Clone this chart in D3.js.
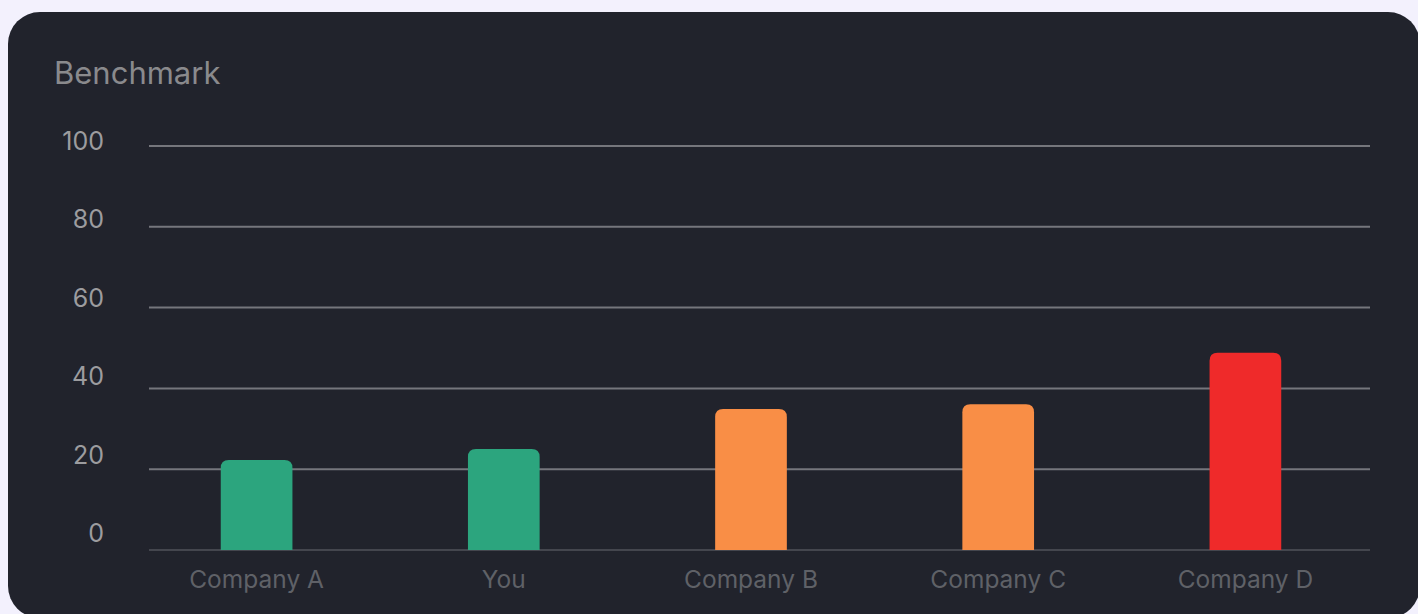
<!DOCTYPE html>
<html>
<head>
<meta charset="utf-8">
<script src="https://cdn.jsdelivr.net/npm/d3@7"></script>
<style>
  html, body { margin: 0; padding: 0; background: #f3f1fd; overflow: hidden; }
  svg { display: block; font-family: Inter, "Noto Sans", sans-serif; }
</style>
</head>
<body>
<div id="chart"></div>
<script>
// data
const companies = ['Company A', 'You', 'Company B', 'Company C', 'Company D'];
const scores = [22.3, 25, 34.9, 36.1, 48.8];
const barColors = ['#2ca57e', '#2ca57e', '#f98e46', '#f98e46', '#ef2a2a'];
const yTicks = [0, 20, 40, 60, 80, 100];

const svgWidth = 1418, svgHeight = 614;

let margin = { top: 146, right: 1370, bottom: 550, left: 149 };

let svg = d3.select('#chart')
    .append('svg')
    .attr('width', svgWidth)
    .attr('height', svgHeight);

// card
svg.append('rect')
    .attr('x', 8).attr('y', 12)
    .attr('width', 1412).attr('height', 606)
    .attr('rx', 32)
    .attr('fill', '#21232c');

svg.append('text')
    .attr('x', 54).attr('y', 84)
    .attr('fill', '#8a8a8d')
    .style('font-size', '31px')
    .text('Benchmark');

let y = d3.scaleLinear().domain([0, 100]).range([margin.bottom, margin.top]);
// tick labels sit on their own slightly tighter spacing
let yLabel = d3.scaleLinear().domain([0, 100]).range([542, 150]);

let x = d3.scaleBand()
    .domain(companies)
    .range([133, 1369])
    .paddingInner(0.71)
    .paddingOuter(0.355);

// grid
svg.append('g').selectAll('line')
    .data(yTicks)
    .enter()
    .append('line')
    .attr('x1', margin.left).attr('x2', margin.right)
    .attr('y1', d => y(d)).attr('y2', d => y(d))
    .attr('stroke', d => d === 0 ? '#696b71' : '#75767c')
    .attr('stroke-width', d => d === 0 ? 1 : 2);

// y labels
svg.append('g').selectAll('text')
    .data(yTicks)
    .enter()
    .append('text')
    .attr('x', 104)
    .attr('y', d => yLabel(d))
    .attr('text-anchor', 'end')
    .attr('fill', '#9c9c9f')
    .style('font-size', '25px')
    .text(d => d);

// bars with rounded top
function barPath(d, i) {
    let x0 = x(companies[i]), w = x.bandwidth(), y0 = y(d), y1 = y(0), r = 8;
    return `M${x0},${y1}V${y0 + r}Q${x0},${y0} ${x0 + r},${y0}H${x0 + w - r}Q${x0 + w},${y0} ${x0 + w},${y0 + r}V${y1}Z`;
}

svg.append('g').selectAll('path')
    .data(scores)
    .enter()
    .append('path')
    .attr('d', barPath)
    .attr('fill', (d, i) => barColors[i]);

// x labels
svg.append('g').selectAll('text')
    .data(companies)
    .enter()
    .append('text')
    .attr('x', d => x(d) + x.bandwidth() / 2)
    .attr('y', 588)
    .attr('text-anchor', 'middle')
    .attr('fill', '#5f6167')
    .style('font-size', '24.5px')
    .text(d => d);
</script>
</body>
</html>
